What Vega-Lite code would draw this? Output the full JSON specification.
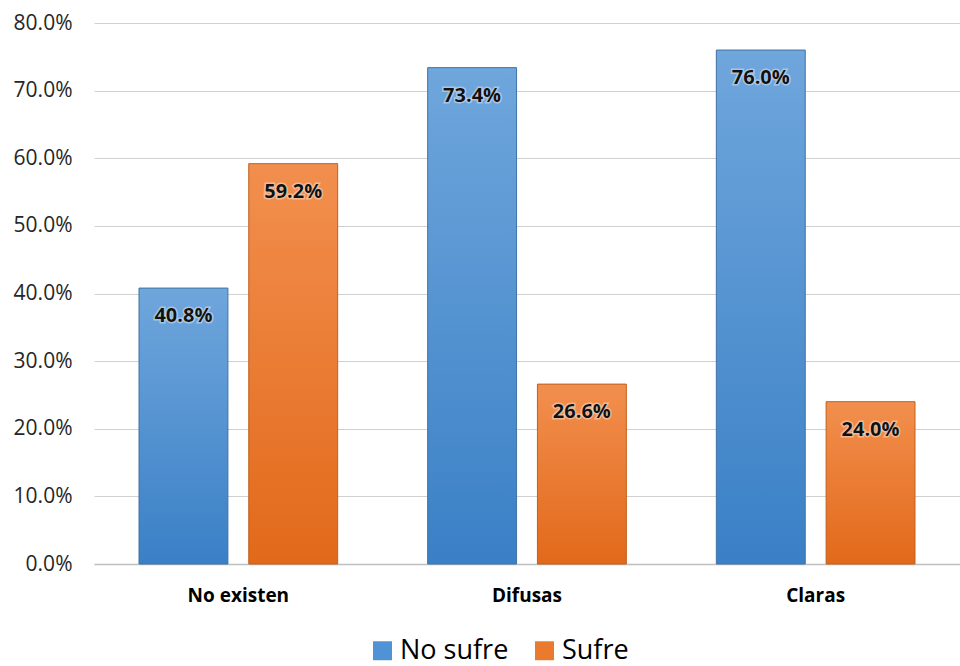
{
  "$schema": "https://vega.github.io/schema/vega-lite/v6.json",
  "width": 960,
  "height": 666,
  "autosize": {"type": "fit", "contains": "padding"},
  "padding": {"left": 13, "top": 12, "right": 0, "bottom": 61},
  "background": "white",
  "config": {"view": {"stroke": null}, "font": "Open Sans"},
  "data": {"values": [
    {"categoria": "No existen", "serie": "No sufre", "valor": 0.408},
    {"categoria": "No existen", "serie": "Sufre", "valor": 0.592},
    {"categoria": "Difusas", "serie": "No sufre", "valor": 0.734},
    {"categoria": "Difusas", "serie": "Sufre", "valor": 0.266},
    {"categoria": "Claras", "serie": "No sufre", "valor": 0.760},
    {"categoria": "Claras", "serie": "Sufre", "valor": 0.240}
  ]},
  "encoding": {
    "x": {"field": "categoria", "type": "nominal", "sort": ["No existen", "Difusas", "Claras"],
      "scale": {"paddingInner": 0, "paddingOuter": 0},
      "axis": {"title": null, "labelAngle": 0, "ticks": false, "domainColor": "#bfbfbf", "domainWidth": 1.5,
        "labelFontSize": 19, "labelFontWeight": "bold", "labelColor": "#000000", "labelPadding": 22, "grid": false}},
    "xOffset": {"field": "serie", "type": "nominal", "sort": ["No sufre", "Sufre"], "scale": {"paddingInner": 0.19, "paddingOuter": 0.41}},
    "y": {"field": "valor", "type": "quantitative", "scale": {"domain": [0, 0.8], "nice": false},
      "axis": {"title": null, "format": ".1%", "values": [0, 0.1, 0.2, 0.3, 0.4, 0.5, 0.6, 0.7, 0.8],
        "domain": false, "ticks": false, "labelPadding": 22, "labelFontSize": 21, "labelColor": "#262626",
        "gridColor": "#d0d0d0", "gridWidth": 1.2}}
  },
  "layer": [
    {
      "mark": {"type": "bar", "strokeWidth": 1},
      "encoding": {
        "fill": {
          "condition": {"test": "datum.serie === 'No sufre'",
            "value": {"gradient": "linear", "x1": 0, "y1": 0, "x2": 0, "y2": 1, "stops": [{"offset": 0, "color": "#6fa6dc"}, {"offset": 1, "color": "#3a80c6"}]}},
          "value": {"gradient": "linear", "x1": 0, "y1": 0, "x2": 0, "y2": 1, "stops": [{"offset": 0, "color": "#f28f4e"}, {"offset": 1, "color": "#e2691a"}]}
        },
        "stroke": {"condition": {"test": "datum.serie === 'No sufre'", "value": "#3f72a6"}, "value": "#c0601e"}
      }
    },
    {
      "mark": {"type": "square", "size": 0, "filled": true},
      "encoding": {
        "y": {"datum": 0},
        "color": {"field": "serie", "type": "nominal", "sort": ["No sufre", "Sufre"],
          "scale": {"domain": ["No sufre", "Sufre"], "range": ["#4f92d6", "#ea7a2e"]},
          "legend": {"title": null, "orient": "none", "legendX": 275, "legendY": 614, "direction": "horizontal", "symbolType": "square", "symbolSize": 360,
            "symbolStrokeWidth": 0, "symbolOpacity": 1, "labelOffset": 4,
            "labelFontSize": 27, "labelColor": "#000000", "columnPadding": 22}}
      }
    },
    {
      "mark": {"type": "text", "stroke": "#ffffff", "strokeWidth": 3, "strokeOpacity": 0.4, "baseline": "middle", "dy": 28, "fontSize": 20, "fontWeight": "bold", "color": "#ffffff"},
      "encoding": {"text": {"field": "valor", "type": "quantitative", "format": ".1%"}}
    },
    {
      "mark": {"type": "text", "baseline": "middle", "dy": 28, "fontSize": 20, "fontWeight": "bold", "color": "#111111"},
      "encoding": {"text": {"field": "valor", "type": "quantitative", "format": ".1%"}}
    }
  ]
}
